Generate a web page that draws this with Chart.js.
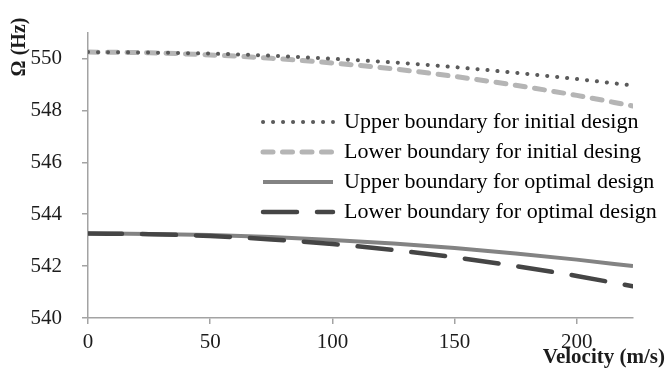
<!DOCTYPE html>
<html>
<head>
<meta charset="utf-8">
<script src="https://cdn.jsdelivr.net/npm/chart.js@4/dist/chart.umd.min.js"></script>
<style>
html,body{margin:0;padding:0;background:#fff;}
#wrap{width:668px;height:371px;position:relative;}
</style>
</head>
<body>
<div id="wrap"><canvas id="c" width="668" height="371"></canvas></div>
<script>
const velocity = [0, 25, 50, 75, 100, 125, 150, 175, 200, 223];
const upperInitial = [550.25, 550.23, 550.19, 550.11, 549.99, 549.85, 549.67, 549.45, 549.21, 548.96];
const lowerInitial = [550.25, 550.22, 550.14, 550.01, 549.83, 549.60, 549.31, 548.97, 548.58, 548.17];
const upperOptimal = [543.26, 543.24, 543.20, 543.12, 543.01, 542.87, 542.70, 542.49, 542.25, 542.00];
const lowerOptimal = [543.26, 543.23, 543.16, 543.03, 542.85, 542.62, 542.34, 542.00, 541.62, 541.22];
const seriesLabels = [
  'Upper boundary for initial design',
  'Lower boundary for initial desing',
  'Upper boundary for optimal design',
  'Lower boundary for optimal design'
];
const xTicks = [0, 50, 100, 150, 200];
const yTicks = [540, 542, 544, 546, 548, 550];
const xTitle = 'Velocity (m/s)';
const yTitle = 'Ω (Hz)';

const toPts = (arr) => velocity.map((v, i) => ({x: v, y: arr[i]}));
const FONT = "'Liberation Serif', 'Times New Roman', serif";
const AXIS = '#a3a3a3';
const TEXT = '#1c1c1c';

const common = {pointRadius: 0, pointHoverRadius: 0, fill: false, cubicInterpolationMode: 'monotone'};

const datasets = [
  Object.assign({label: seriesLabels[0], data: toPts(upperInitial), borderColor: '#5a5a5a', borderWidth: 4,
    borderDash: [0.1, 9.9], borderCapStyle: 'round', order: 1}, common),
  Object.assign({label: seriesLabels[1], data: toPts(lowerInitial), borderColor: '#b5b5b5', borderWidth: 5,
    borderDash: [10, 9.5], borderCapStyle: 'round', order: 2}, common),
  Object.assign({label: seriesLabels[2], data: toPts(upperOptimal), borderColor: '#838383', borderWidth: 4,
    borderDash: [], borderCapStyle: 'butt', order: 3}, common),
  Object.assign({label: seriesLabels[3], data: toPts(lowerOptimal), borderColor: '#454545', borderWidth: 4.5,
    borderDash: [34, 20], borderCapStyle: 'round', order: 0}, common)
];

const legendPos = {
  id: 'legendPos',
  afterLayout(chart) {
    const lg = chart.legend;
    if (!lg) return;
    const left = 255, top = 103;
    lg.left = left; lg.top = top;
    lg.right = left + 410; lg.bottom = top + 200;
    lg.width = 410; lg.height = 200;
  }
};

const axisTitles = {
  id: 'axisTitles',
  afterDraw(chart) {
    const ctx = chart.ctx;
    ctx.save();
    ctx.fillStyle = TEXT;
    ctx.font = "bold 21px " + FONT;
    ctx.textAlign = 'right';
    ctx.textBaseline = 'middle';
    ctx.fillText(xTitle, 665, 358);
    ctx.translate(20, 47);
    ctx.rotate(-Math.PI / 2);
    ctx.font = "bold 20px " + FONT;
    ctx.textAlign = 'center';
    ctx.fillText(yTitle, 0, 0);
    ctx.restore();
  }
};

new Chart(document.getElementById('c'), {
  type: 'line',
  data: {datasets},
  plugins: [legendPos, axisTitles],
  options: {
    responsive: false,
    animation: false,
    events: [],
    layout: {padding: {left: 0, right: 35, top: 11, bottom: 0}},
    plugins: {
      tooltip: {enabled: false},
      title: {display: false},
      legend: {
        display: true,
        position: 'chartArea',
        align: 'start',
        labels: {
          usePointStyle: true,
          pointStyle: 'line',
          pointStyleWidth: 70,
          boxHeight: 22,
          padding: 8,
          color: TEXT,
          font: {family: FONT, size: 22},
          generateLabels(chart) {
            return chart.data.datasets.map((ds, i) => ({
              text: ds.label,
              fillStyle: ds.borderColor,
              strokeStyle: ds.borderColor,
              lineWidth: ds.borderWidth,
              lineDash: ds.borderDash,
              lineCap: ds.borderCapStyle,
              lineJoin: 'round',
              pointStyle: 'line',
              hidden: false,
              datasetIndex: i
            }));
          }
        }
      }
    },
    scales: {
      x: {
        type: 'linear',
        min: 0,
        max: 223,
        afterBuildTicks(scale) { scale.ticks = xTicks.map(v => ({value: v})); },
        afterFit(scale) { scale.height = 53; },
        grid: {drawOnChartArea: false, drawTicks: true, tickLength: 6, color: AXIS, lineWidth: 1.5},
        border: {display: true, color: AXIS, width: 1.5},
        ticks: {color: TEXT, padding: 6, maxRotation: 0, font: {family: FONT, size: 21}}
      },
      y: {
        type: 'linear',
        min: 540,
        max: 551,
        afterBuildTicks(scale) { scale.ticks = yTicks.map(v => ({value: v})); },
        afterFit(scale) { scale.width = 88; },
        grid: {drawOnChartArea: false, drawTicks: true, tickLength: 6, color: AXIS, lineWidth: 1.5},
        border: {display: true, color: AXIS, width: 1.5},
        ticks: {color: TEXT, padding: 20, font: {family: FONT, size: 21}}
      }
    }
  }
});
</script>
</body>
</html>
